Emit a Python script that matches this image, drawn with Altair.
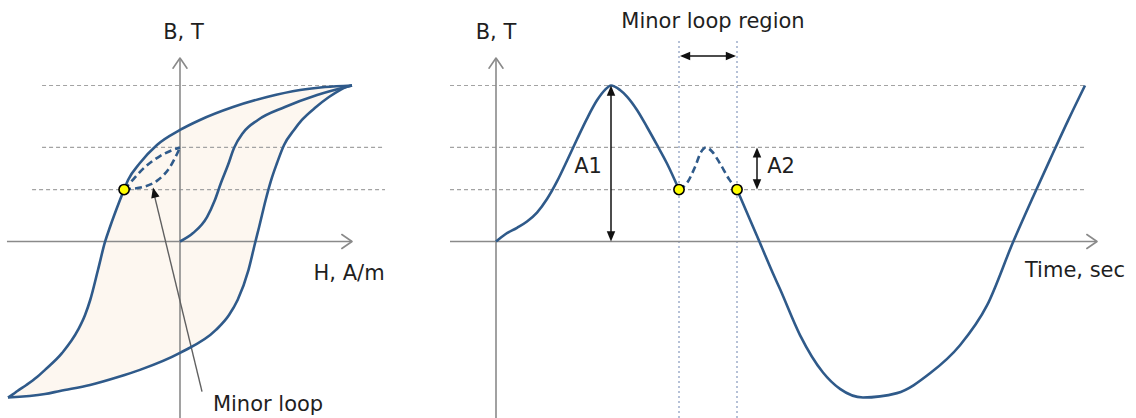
import altair as alt
import pandas as pd

# ---------------- Left panel: B-H hysteresis (per-unit H, B in T) ----------------
# major loop sampled at shared flux-density levels
loop_B = [1.0, 0.990, 0.971, 0.926, 0.862, 0.779, 0.715, 0.619, 0.503, 0.394, 0.333,
          0.266, 0.093, -0.003, -0.183, -0.375, -0.471, -0.567, -0.714, -0.823, -0.869,
          -0.920, -0.958, -0.978, -1.0]
loop_H_down = [1.0, 0.843, 0.698, 0.506, 0.308, 0.116, 0.0, -0.134, -0.233, -0.302, -0.325,
               -0.349, -0.407, -0.436, -0.477, -0.522, -0.552, -0.593, -0.685, -0.785, -0.831,
               -0.893, -0.945, -0.970, -1.0]
loop_H_up = [1.0, 0.965, 0.930, 0.866, 0.791, 0.709, 0.663, 0.605, 0.564, 0.530, 0.514,
             0.498, 0.460, 0.438, 0.398, 0.335, 0.285, 0.209, 0.0, -0.233, -0.360,
             -0.523, -0.698, -0.785, -1.0]

# initial magnetisation curve
init_H = [0.0, 0.076, 0.157, 0.203, 0.238, 0.279, 0.314, 0.366, 0.453, 0.610, 0.797, 1.0]
init_B = [0.0, 0.054, 0.157, 0.266, 0.375, 0.490, 0.599, 0.696, 0.779, 0.862, 0.939, 1.0]

# minor loop: two branches meeting at the reversal point
minor_up_H = [-0.325, -0.291, -0.203, -0.116, -0.040, 0.0]
minor_up_B = [0.333, 0.375, 0.478, 0.548, 0.588, 0.603]
minor_dn_H = [0.0, -0.012, -0.058, -0.128, -0.215, -0.291, -0.325]
minor_dn_B = [0.603, 0.574, 0.478, 0.394, 0.349, 0.337, 0.333]

# reference flux levels: peak, minor-loop top, minor-loop start
levels_B = [1.0, 0.603, 0.333]

left_labels = ["B, T", "H, A/m", "Minor loop"]
left_label_H = [0.02, 0.983, 0.512]
left_label_B = [1.337, -0.208, -1.048]

# ---------------- Right panel: B versus time ----------------
wave1_t = [0.0, 0.09, 0.21, 0.31, 0.41, 0.51, 0.61, 0.71, 0.81, 0.91, 1.01, 1.09, 1.15,
           1.24, 1.31, 1.41, 1.51, 1.61, 1.71, 1.83]
wave1_B = [0.0, 0.045, 0.088, 0.128, 0.185, 0.272, 0.385, 0.518, 0.655, 0.788, 0.905, 0.972, 1.0,
           0.971, 0.929, 0.843, 0.734, 0.619, 0.500, 0.333]
minor_t = [1.83, 1.91, 1.99, 2.05, 2.10, 2.16, 2.24, 2.33, 2.41]
minor_B = [0.333, 0.375, 0.478, 0.573, 0.603, 0.577, 0.500, 0.400, 0.333]
wave2_t = [2.41, 2.54, 2.64, 2.77, 2.84, 3.04, 3.27, 3.44, 3.67, 4.01, 4.34, 4.64, 4.91,
           5.17, 5.37, 5.54, 5.72, 5.89]
wave2_B = [0.333, 0.140, -0.010, -0.205, -0.305, -0.600, -0.840, -0.945, -1.0, -0.972, -0.845,
           -0.665, -0.410, -0.005, 0.285, 0.525, 0.775, 1.0]

t_peak = 1.15          # time of the A1 peak
t_minor = [1.83, 2.41]  # minor loop window
t_a2 = 2.61             # A2 marker position

right_labels = ["B, T", "Minor loop region", "Time, sec", "A1", "A2"]
right_label_t = [0.0, 2.17, 5.79, 0.92, 2.85]
right_label_B = [1.337, 1.407, -0.189, 0.478, 0.478]

# ---------------- styling ----------------
LINE = "#2f5a8a"
GRID = "#a3a3a3"
AXIS = "#8a8a8a"
VGRID = "#8fa0c2"
FILL = "#fdf7f0"
FONT = "DejaVu Sans"
FS = 21

H_DOM = [-1.0465, 1.2791]
T_DOM = [-0.96, 6.40]
B_DOM = [-1.1314, 1.5481]

ARROW = "M 0 0 L -1 2.4 L 1 2.4 Z"        # filled arrowhead, tip at origin, pointing up
CHEVRON = "M -2 2.9 L 0 0 L 2 2.9"         # open axis arrowhead, pointing up


def qx(field, dom):
    return alt.X(field, type="quantitative",
                 scale=alt.Scale(domain=dom, nice=False, zero=False), axis=None)


def qy(field):
    return alt.Y(field, type="quantitative",
                 scale=alt.Scale(domain=B_DOM, nice=False, zero=False), axis=None)


def segments(rows, dom, color, width, dash=None):
    df = pd.DataFrame(rows, columns=["x", "x2", "y", "y2"])
    mk = dict(color=color, strokeWidth=width)
    if dash:
        mk["strokeDash"] = dash
    return alt.Chart(df).mark_rule(**mk).encode(
        x=qx("x", dom), x2="x2:Q", y=qy("y"), y2="y2:Q")


def glyphs(rows, dom, shape, size, color, filled, width=1.5):
    df = pd.DataFrame(rows, columns=["x", "y", "a"])
    return alt.Chart(df).mark_point(
        shape=shape, size=size, filled=filled, color=color,
        strokeWidth=width, opacity=1, strokeCap="round", strokeJoin="round"
    ).encode(x=qx("x", dom), y=qy("y"), angle=alt.Angle("a:Q", scale=None))


def curve(xs, ys, dom, dash=None, group=None):
    # points are joined in order of x, smoothed with monotone interpolation
    df = pd.DataFrame({"x": xs, "y": ys})
    if group is not None:
        df["g"] = group
    mk = dict(color=LINE, strokeWidth=2.6, interpolate="monotone")
    if dash:
        mk["strokeDash"] = dash
    enc = dict(x=qx("x", dom), y=qy("y"))
    if group is not None:
        enc["detail"] = "g:N"
    return alt.Chart(df).mark_line(**mk).encode(**enc)


def dots(xs, ys, dom):
    df = pd.DataFrame({"x": xs, "y": ys})
    return alt.Chart(df).mark_point(
        shape="circle", filled=True, fill="#ffff00", stroke="#000000",
        strokeWidth=1.6, size=105, opacity=1
    ).encode(x=qx("x", dom), y=qy("y"))


def labels(texts, xs, ys, dom):
    df = pd.DataFrame({"x": xs, "y": ys, "label": texts})
    return alt.Chart(df).mark_text(
        font=FONT, fontSize=FS, color="#1f1f1f", align="center", baseline="middle"
    ).encode(x=qx("x", dom), y=qy("y"), text="label:N")


# ---------------- left panel ----------------
loop_df = pd.DataFrame({"B": loop_B, "Hd": loop_H_down, "Hu": loop_H_up})
loop_fill = alt.Chart(loop_df).mark_area(
    orient="horizontal", color=FILL, interpolate="monotone", opacity=1
).encode(x=qx("Hd", H_DOM), x2="Hu:Q", y=qy("B"))

left_grid = segments(
    [[-0.802, 1.0, levels_B[0], levels_B[0]],
     [-0.802, 1.192, levels_B[1], levels_B[1]],
     [-0.860, 1.192, levels_B[2], levels_B[2]]],
    H_DOM, GRID, 1.2, [4, 3])
left_axes = segments(
    [[-1.006, 1.0, 0.0, 0.0],
     [0.0, 0.0, B_DOM[0], 1.176]],
    H_DOM, AXIS, 1.6)
left_chevrons = glyphs([[1.0, 0.0, 90], [0.0, 1.176, 0]], H_DOM, CHEVRON, 49, AXIS, False, 1.6)

pointer = segments([[0.128, -0.150, -0.962, 0.300]], H_DOM, "#606060", 1.4)
pointer_head = glyphs([[-0.157, 0.346, 346.5]], H_DOM, ARROW, 72, "#111111", True)

loop_lines = curve(loop_H_down + loop_H_up, loop_B + loop_B, H_DOM,
                   group=["d"] * len(loop_B) + ["u"] * len(loop_B))
init_line = curve(init_H, init_B, H_DOM)
minor_lines = curve(minor_up_H + minor_dn_H, minor_up_B + minor_dn_B, H_DOM, dash=[7, 4],
                    group=["u"] * len(minor_up_H) + ["d"] * len(minor_dn_H))
left_dot = dots([minor_up_H[0]], [minor_up_B[0]], H_DOM)
left_text = labels(left_labels, left_label_H, left_label_B, H_DOM)

left = alt.layer(
    loop_fill, left_grid, left_axes, left_chevrons, pointer,
    loop_lines, init_line, minor_lines, left_dot, pointer_head, left_text
).properties(width=400, height=418)

# ---------------- right panel ----------------
right_grid = segments(
    [[-0.46, 5.89, b, b] for b in levels_B], T_DOM, GRID, 1.2, [4, 3])
right_vgrid = segments(
    [[t, t, B_DOM[0], 1.292] for t in t_minor], T_DOM, VGRID, 1.3, [2, 3])
right_axes = segments(
    [[-0.46, 6.01, 0.0, 0.0],
     [0.0, 0.0, B_DOM[0], 1.176]],
    T_DOM, AXIS, 1.6)
right_chevrons = glyphs([[6.01, 0.0, 90], [0.0, 1.176, 0]], T_DOM, CHEVRON, 49, AXIS, False, 1.6)

dim_lines = segments(
    [[t_peak, t_peak, 0.03, 0.97],
     [t_a2, t_a2, levels_B[2] + 0.03, levels_B[1] - 0.03],
     [t_minor[0] + 0.03, t_minor[1] - 0.03, 1.189, 1.189]],
    T_DOM, "#111111", 1.5)
dim_heads = glyphs(
    [[t_peak, 1.0, 0], [t_peak, 0.0, 180],
     [t_a2, levels_B[1], 0], [t_a2, levels_B[2], 180],
     [t_minor[0] + 0.01, 1.189, 270], [t_minor[1] - 0.01, 1.189, 90]],
    T_DOM, ARROW, 72, "#111111", True)

wave_a = curve(wave1_t, wave1_B, T_DOM)
wave_m = curve(minor_t, minor_B, T_DOM, dash=[7, 4])
wave_b = curve(wave2_t, wave2_B, T_DOM)
right_dots = dots([minor_t[0], minor_t[-1]], [minor_B[0], minor_B[-1]], T_DOM)
right_text = labels(right_labels, right_label_t, right_label_B, T_DOM)

right = alt.layer(
    right_grid, right_vgrid, right_axes, right_chevrons, dim_lines,
    wave_a, wave_m, wave_b, dim_heads, right_dots, right_text
).properties(width=736, height=418)

chart = alt.hconcat(left, right, spacing=0).properties(
    padding=0, background="white"
).configure_view(stroke=None)

chart.save("out.html", embed_options={"renderer": "svg", "actions": False})
